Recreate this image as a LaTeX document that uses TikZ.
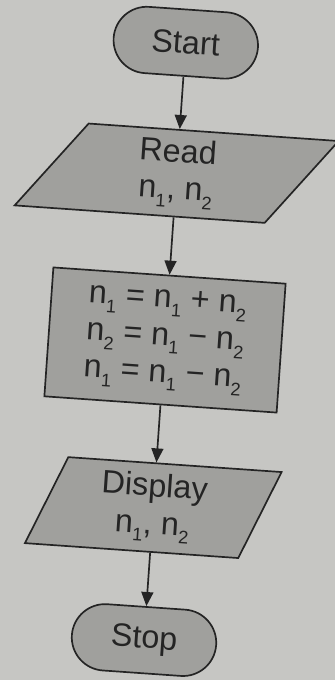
\documentclass[tikz,border=0pt]{standalone}
\usepackage{fontspec}
\setmainfont{Liberation Sans}
\usetikzlibrary{arrows.meta,shapes.geometric,shapes.misc}
\definecolor{paper}{RGB}{198,198,195}
\definecolor{slate}{RGB}{160,160,157}
\definecolor{ink}{RGB}{36,36,36}
\newcommand\chartfont{\fontsize{23}{26.5}\selectfont}
\newcommand\nsub[1]{n\raisebox{-6pt}{\fontsize{13}{13}\selectfont#1}}
\tikzset{
  >={Triangle[length=10pt,width=8.5pt]},
  term/.style={rounded rectangle,draw=ink,fill=slate,line width=1.2pt,
    minimum width=3.85cm,minimum height=1.66cm,text=ink,font=\chartfont},
  io/.style={trapezium,trapezium stretches=true,draw=ink,fill=slate,line width=1.2pt,
    align=center,text=ink,font=\chartfont,inner sep=2pt},
  proc/.style={rectangle,draw=ink,fill=slate,line width=1.2pt,
    minimum width=5.82cm,minimum height=3.23cm,align=center,text=ink,font=\chartfont},
  flow/.style={->,line width=1.2pt,draw=ink},
}
\begin{document}
\begin{tikzpicture}
  \useasboundingbox[fill=paper] (-4.125,-8.5) rectangle (4.25,8.5);
  \begin{scope}[rotate=-4,transform shape]
    \node[term] (start) at (0,7.45) {Start};
    \node[io,trapezium left angle=67.5,trapezium right angle=112.5,
      minimum width=7.97cm,minimum height=2.17cm] (read) at (0,4.18) {Read\\\nsub{1}, \nsub{2}};
    \node[proc] (swap) at (0,0) {\nsub{1} = \nsub{1} + \nsub{2}\\
      \nsub{2} = \nsub{1} − \nsub{2}\\
      \nsub{1} = \nsub{1} − \nsub{2}};
    \node[io,trapezium left angle=72.5,trapezium right angle=107.5,
      minimum width=6.28cm,minimum height=2.22cm] (show) at (0,-4.2) {Display\\\nsub{1}, \nsub{2}};
    \node[term] (stop) at (0,-7.52) {Stop};
    % connectors
    \draw[flow] (start) -- (read);
    \draw[flow] (read) -- (swap);
    \draw[flow] (swap) -- (show);
    \draw[flow] (show) -- (stop);
  \end{scope}
\end{tikzpicture}
\end{document}
